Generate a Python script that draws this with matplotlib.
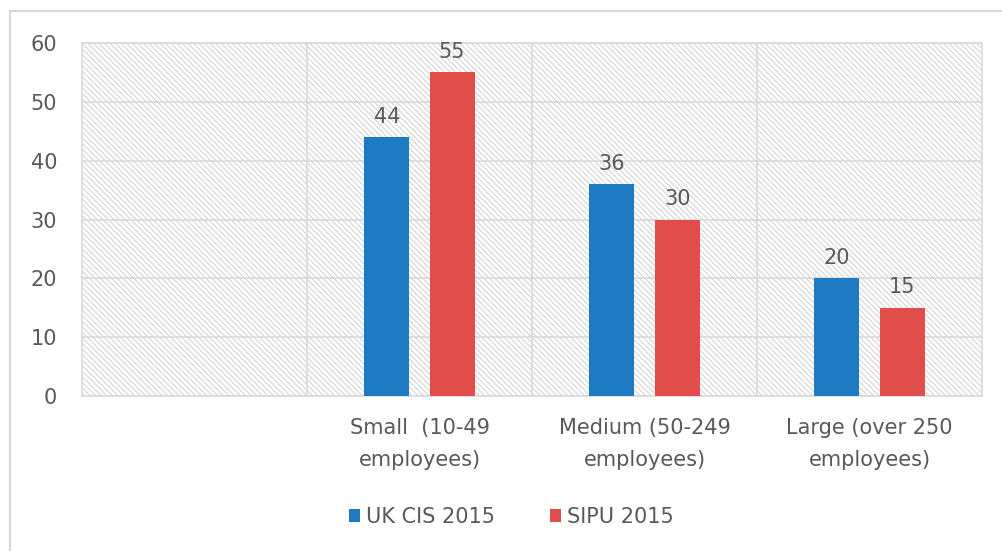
import numpy as np
import matplotlib
matplotlib.use("Agg")
import matplotlib.pyplot as plt
from matplotlib.lines import Line2D

# data
categories = ["", "Small  (10-49\nemployees)", "Medium (50-249\nemployees)", "Large (over 250\nemployees)"]
uk_cis = [np.nan, 44, 36, 20]
sipu = [np.nan, 55, 30, 15]
series_names = ["UK CIS 2015", "SIPU 2015"]
yticks = [0, 10, 20, 30, 40, 50, 60]

blue = "#1f7bc1"
red = "#e04d4a"
grey_txt = "#595959"
grid_c = "#d9d9d9"
fs = 15

plt.rcParams["font.family"] = ["DejaVu Sans"]
plt.rcParams["hatch.linewidth"] = 0.7

fig = plt.figure(figsize=(10.02, 5.51), dpi=100)
ax = fig.add_axes([82/1002, 1 - 396/551, (982-82)/1002, (396-43)/551])

# hatched plot area
ax.patch.set_facecolor("white")
ax.patch.set_hatch("\\\\\\\\\\\\")
ax.patch.set_edgecolor("#cfcfcf")

x = np.arange(len(categories))
w = 0.2
b1 = ax.bar(x - 0.145, uk_cis, w, color=blue, label=series_names[0], zorder=3)
b2 = ax.bar(x + 0.145, sipu, w, color=red, label=series_names[1], zorder=3)

for bars, vals in [(b1, uk_cis), (b2, sipu)]:
    for r, v in zip(bars, vals):
        if np.isnan(v):
            continue
        ax.text(r.get_x() + r.get_width()/2, v + 1.8, "%d" % v, ha="center", va="bottom",
                fontsize=fs, color=grey_txt, zorder=4)

ax.set_xlim(-0.5, 3.5)
ax.set_ylim(0, 60)
ax.set_yticks(yticks)
ax.set_xticks(x)
ax.set_xticklabels(categories, fontsize=fs, color=grey_txt, linespacing=1.75)
ax.set_xticks([0.5, 1.5, 2.5], minor=True)
ax.tick_params(axis="both", which="both", length=0)
ax.tick_params(axis="y", labelsize=fs, labelcolor=grey_txt, pad=18)
ax.tick_params(axis="x", pad=16)
ax.grid(axis="y", color=grid_c, linewidth=1.2, zorder=1)
ax.grid(axis="x", which="minor", color=grid_c, linewidth=1.2, zorder=1)
ax.grid(axis="x", which="major", visible=False)
for s in ["left", "right", "top", "bottom"]:
    ax.spines[s].set_color(grid_c)
    ax.spines[s].set_linewidth(1.2)
ax.set_axisbelow(True)

fig.legend(handles=[b1, b2], labels=series_names, loc="center left",
           bbox_to_anchor=(330/1002, 1 - 517/551), ncol=2, frameon=False,
           fontsize=fs, handlelength=0.55, handleheight=0.55, handletextpad=0.3,
           columnspacing=2.6, labelcolor=grey_txt)

# outer chart border (only top and left edges visible)
fig.lines.append(Line2D([10/1002, 10/1002], [0, 1 - 11/551], transform=fig.transFigure,
                        color=grid_c, linewidth=1.5))
fig.lines.append(Line2D([10/1002, 1], [1 - 11/551, 1 - 11/551], transform=fig.transFigure,
                        color=grid_c, linewidth=1.5))

fig.savefig("out.png", dpi=100)
